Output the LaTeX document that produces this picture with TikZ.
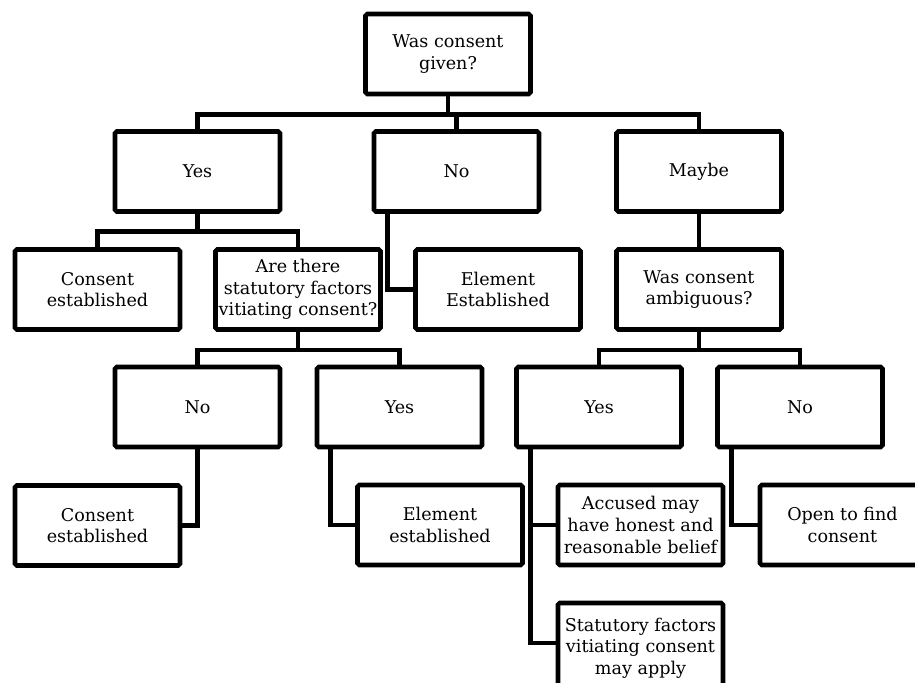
\documentclass[tikz,border=0pt]{standalone}
\usepackage{fontspec}
\setmainfont{DejaVu Serif}
\begin{document}
\begin{tikzpicture}
  [x=0.03cm,y=-0.03cm,
   box/.style={draw,line width=3.9pt,rounded corners=1.5pt,fill=white,
     minimum width=4.95cm,minimum height=2.4cm,inner sep=1pt,align=center,
     font=\fontsize{15}{18.4}\selectfont},
   link/.style={line width=3.9pt,line join=miter}]
  \useasboundingbox (0,0) rectangle (915,683);
  \clip (0,0) rectangle (915,683);
  \node[box] (given) at (448,54) {Was consent\\given?};
  \node[box] (yes1) at (197.5,171.5) {Yes};
  \node[box] (no1) at (456.5,171.5) {No};
  \node[box] (maybe1) at (699,171.5) {Maybe};
  \node[box] (cons1) at (97.5,289.5) {Consent\\established};
  \node[box] (factors) at (298,289.5) {Are there\\statutory factors\\vitiating consent?};
  \node[box] (elem1) at (498,289.5) {Element\\Established};
  \node[box] (ambig) at (699,289.5) {Was consent\\ambiguous?};
  \node[box] (no2) at (197.5,407) {No};
  \node[box] (yes2) at (399.5,407) {Yes};
  \node[box] (yes3) at (599,407) {Yes};
  \node[box] (no3) at (800,407) {No};
  \node[box] (cons2) at (97.5,525.5) {Consent\\established};
  \node[box] (elem2) at (440,525) {Element\\established};
  \node[box] (accused) at (640.5,525) {Accused may\\have honest and\\reasonable belief};
  \node[box,minimum height=2.7cm] (statutory) at (640.5,648) {Statutory factors\\vitiating consent\\may apply};
  \node[box] (open) at (842.5,525) {Open to find\\consent};
  \foreach \from/\to in {given/yes1,given/no1,given/maybe1,yes1/cons1,yes1/factors,
      maybe1/ambig,factors/no2,factors/yes2,ambig/yes3,ambig/no3}
    \draw[link] (\from.south) -- ++(0,18) -| (\to.north);
  \draw[link] (no2.south) |- (cons2.east);
  \foreach \from/\to in {no1/elem1,yes2/elem2,yes3/accused,no3/open}
    \draw[link] ([shift={(16,0)}]\from.south west) |- (\to.west);
  \draw[link] ([shift={(16,0)}]yes3.south west) |- ([shift={(0,-5)}]statutory.west);
\end{tikzpicture}
\end{document}
